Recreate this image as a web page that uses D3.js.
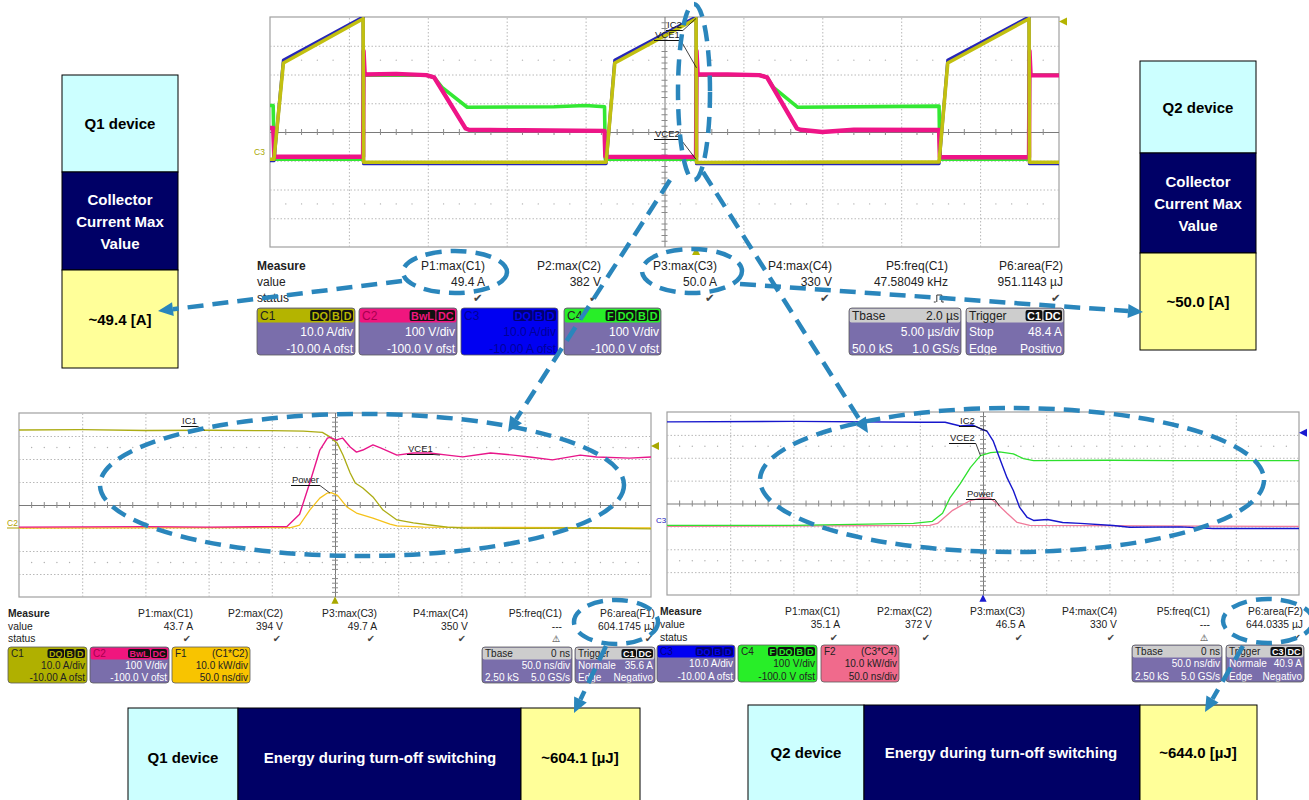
<!DOCTYPE html>
<html>
<head>
<meta charset="utf-8">
<script src="https://cdn.jsdelivr.net/npm/d3@7/dist/d3.min.js"></script>
<style>
  body { margin: 0; background: #fff; }
  text { font-family: "Liberation Sans", Arial, sans-serif; }
</style>
</head>
<body>
<svg id="chart" width="1309" height="800"></svg>
<script>
// ---------- data ----------
// Top capture, 5 µs/div. Pairs are [time µs, value].
const topIC1 = [[0, 0.5], [0.25, 0.5], [0.85, 34], [5.9, 49.4], [5.93, -0.5], [21.3, -0.5], [21.85, 34], [27.0, 49.4], [27.03, -0.6], [42.4, -0.4], [42.95, 34], [48.1, 49.4], [48.13, -0.5], [50, -0.5]];
const topIC2 = [[0, 0], [0.25, 0], [0.85, 35], [5.9, 50.0], [5.93, -1], [21.3, -1], [21.85, 35], [27.0, 50.0], [27.03, -1], [42.4, -1], [42.95, 35], [48.1, 50.0], [48.13, -1], [50, -1]];
const topVCE1 = [[0, 114], [0.2, 114], [0.27, 14], [5.9, 14], [5.93, 382], [6.0, 300], [8, 302], [9.9, 298], [10.4, 290], [12.4, 112], [12.6, 108], [16, 106], [21.2, 104], [21.25, 14], [27.0, 13], [27.03, 382], [27.1, 300], [29, 300], [31.0, 298], [31.5, 290], [33.4, 112], [33.6, 108], [35, 100], [37, 108], [42.4, 107], [42.45, 12], [48.1, 12], [48.13, 382], [48.2, 298], [50, 297]];
const topVCE2 = [[0, 192], [0.2, 192], [0.27, 5], [5.9, 5], [5.93, 298], [9.9, 298], [10.4, 290], [10.9, 255], [12.5, 186], [18, 188], [20, 192], [21.2, 188], [21.25, 5], [27.0, 5], [27.03, 298], [31.0, 298], [31.5, 290], [31.9, 255], [33.45, 186], [42.4, 190], [42.45, 5], [48.1, 5], [48.13, 298], [50, 298]];

// Q1 turn-off, 50 ns/div. Pairs are [time ns, value].
const q1IC1 = [[0, 42.6], [50, 42.8], [100, 42.4], [150, 42.5], [200, 42.3], [225, 42.1], [240, 41.6], [246, 39.6], [251.6, 37], [256.3, 31.7], [262, 23.9], [266, 19.6], [272, 17.4], [280, 13.5], [288, 7.8], [299, 3.5], [312, 2.2], [325, 1.3], [339, 0.4], [351, 0], [400, -0.2], [450, 0], [500, -0.4]];
const q1VCE1 = [[0, 4], [100, 6], [150, 4], [200, 6], [212, 6], [222, 60], [230, 196], [238, 339], [244, 391], [246, 394], [251, 383], [256, 391], [262, 352], [267, 330], [272, 339], [280, 361], [286, 348], [299, 317], [312, 326], [325, 326], [339, 317], [351, 309], [373, 326], [391, 317], [404, 309], [422, 296], [444, 317], [457, 309], [483, 304], [500, 309]];
const q1Power = [[0, 0], [215, 0.2], [222, 1.3], [230, 7.8], [238, 13], [244, 15.2], [247, 15.4], [252, 14.2], [259.5, 9.1], [267, 6.5], [280, 4.3], [293.5, 1.7], [299, 0.9], [320, 0.4], [500, 0]];

// Q2 turn-off, 50 ns/div.
const q2IC2 = [[0, 45.7], [100, 45.9], [200, 45.5], [220, 45.5], [232, 43.9], [242, 44.3], [250, 42.2], [253, 41.7], [258, 37.4], [263, 30], [269, 21.3], [274, 15.7], [279, 8.3], [285, 3.9], [290, 2.6], [301, 3], [313, 1.7], [327, 1.3], [353, 0.4], [366, -0.4], [406, -0.2], [432, -0.9], [500, -0.9]];
const q2VCE2 = [[0, 4], [100, 4], [195, 13], [210, 22], [218, 57], [224, 126], [232, 187], [240, 257], [248, 309], [256, 322], [263, 326], [274, 317], [282, 296], [290, 287], [350, 289], [400, 287], [500, 287]];
const q2Power = [[0, 0], [208, 0.4], [214, 1.3], [226, 7], [240, 11.3], [250, 12.6], [256, 12.2], [261, 10], [269, 5.7], [277, 1.7], [287, 0.4], [500, 0]];

// channel settings: [units per div, offset]
const CH_AMP = [10, -10];
const CH_VOLT = [100, -100];
const CH_POW = [10, -10];

// measurement rows
const topMeasLabels = ['P1:max(C1)', 'P2:max(C2)', 'P3:max(C3)', 'P4:max(C4)', 'P5:freq(C1)', 'P6:area(F2)'];
const topMeasValues = ['49.4 A', '382 V', '50.0 A', '330 V', '47.58049 kHz', '951.1143 µJ'];
const topMeasStatus = ['ok', 'ok', 'ok', 'ok', 'pulse', 'ok'];
const q1MeasLabels = ['P1:max(C1)', 'P2:max(C2)', 'P3:max(C3)', 'P4:max(C4)', 'P5:freq(C1)', 'P6:area(F1)'];
const q1MeasValues = ['43.7 A', '394 V', '49.7 A', '350 V', '---', '604.1745 µJ'];
const q2MeasLabels = ['P1:max(C1)', 'P2:max(C2)', 'P3:max(C3)', 'P4:max(C4)', 'P5:freq(C1)', 'P6:area(F2)'];
const q2MeasValues = ['35.1 A', '372 V', '46.5 A', '330 V', '---', '644.0335 µJ'];
const bottomMeasStatus = ['ok', 'ok', 'ok', 'ok', 'warn', 'ok'];

const svg = d3.select('#chart');
const ANNOT = '#2a86bc';
const PURPLE = '#7a6eab';
let clipId = 0;

// ---------- scope screen ----------
function drawScope(sc) {
    const g = svg.append('g');
    const xd = d3.scaleLinear().domain([0, 10]).range([sc.x0, sc.x1]);
    const yd = d3.scaleLinear().domain([-4, 4]).range([sc.y1, sc.y0]);
    sc.x = d3.scaleLinear().domain([0, sc.tMax]).range([sc.x0, sc.x1]);

    g.append('rect')
        .attr('x', sc.x0).attr('y', sc.y0)
        .attr('width', sc.x1 - sc.x0).attr('height', sc.y1 - sc.y0)
        .attr('fill', '#fff').attr('stroke', '#a0a0a0').attr('stroke-width', 1.2);

    g.append('g').attr('transform', `translate(0,${sc.y1})`)
        .call(d3.axisBottom(xd).tickValues(d3.range(1, 10)).tickSizeInner(-(sc.y1 - sc.y0)).tickSizeOuter(0).tickFormat(''))
        .call(a => a.select('.domain').remove())
        .selectAll('line')
        .attr('stroke', d => d === 5 ? '#7a7a7a' : '#b8b8b8')
        .attr('stroke-dasharray', d => d === 5 ? null : '1.5,2');

    g.append('g').attr('transform', `translate(${sc.x0},0)`)
        .call(d3.axisLeft(yd).tickValues(d3.range(-3, 4)).tickSizeInner(-(sc.x1 - sc.x0)).tickSizeOuter(0).tickFormat(''))
        .call(a => a.select('.domain').remove())
        .selectAll('line')
        .attr('stroke', d => d === 0 ? '#7a7a7a' : '#b8b8b8')
        .attr('stroke-dasharray', d => d === 0 ? null : '1.5,2');

    // minor ticks on the centre cross and dotted rows
    const minorX = d3.range(1, 50).map(i => i / 5).filter(v => Math.abs(v - Math.round(v)) > 0.01);
    const minorY = d3.range(-19, 20).map(i => i / 5).filter(v => Math.abs(v - Math.round(v)) > 0.01);
    g.selectAll('.mx').data(minorX).enter().append('line')
        .attr('x1', d => xd(d)).attr('x2', d => xd(d))
        .attr('y1', yd(0) - 3).attr('y2', yd(0) + 3)
        .attr('stroke', '#8a8a8a');
    g.selectAll('.my').data(minorY).enter().append('line')
        .attr('x1', xd(5) - 3).attr('x2', xd(5) + 3)
        .attr('y1', d => yd(d)).attr('y2', d => yd(d))
        .attr('stroke', '#8a8a8a');
    [-2.5, 2.5].forEach(r => {
        g.selectAll(null).data(minorX).enter().append('circle')
            .attr('cx', d => xd(d)).attr('cy', yd(r)).attr('r', 0.7).attr('fill', '#b0b0b0');
    });

    const id = 'clip' + (clipId++);
    svg.append('clipPath').attr('id', id).append('rect')
        .attr('x', sc.x0).attr('y', sc.y0).attr('width', sc.x1 - sc.x0).attr('height', sc.y1 - sc.y0);
    sc.traces = svg.append('g').attr('clip-path', `url(#${id})`);
    return sc;
}

function chanScale(sc, ch) {
    return d3.scaleLinear()
        .domain([-ch[1] - 4 * ch[0], -ch[1] + 4 * ch[0]])
        .range([sc.y1, sc.y0]);
}

function drawTrace(sc, data, ch, color, width) {
    const y = chanScale(sc, ch);
    sc.traces.append('path').datum(data)
        .attr('d', d3.line().x(d => sc.x(d[0])).y(d => y(d[1])))
        .attr('fill', 'none').attr('stroke', color)
        .attr('stroke-width', width).attr('stroke-linejoin', 'round');
}

function traceLabel(sc, lb) {
    const y = chanScale(sc, lb.ch);
    const t = svg.append('text').attr('x', lb.x).attr('y', lb.y)
        .attr('font-size', lb.fs || 9.5).attr('fill', '#222').text(lb.text);
    const w = t.node().getComputedTextLength();
    svg.append('line').attr('x1', lb.x - 1).attr('x2', lb.x + w + 1)
        .attr('y1', lb.y + 2.5).attr('y2', lb.y + 2.5).attr('stroke', '#111');
    svg.append('line').attr('x1', lb.x + w + 1).attr('y1', lb.y + 2.5)
        .attr('x2', sc.x(lb.t)).attr('y2', y(lb.v)).attr('stroke', '#111').attr('stroke-width', 0.8);
}

function triangle(cx, cy, dir, color, s) {
    const pts = {
        left: [[cx - s, cy], [cx + s * 0.6, cy - s * 0.8], [cx + s * 0.6, cy + s * 0.8]],
        up: [[cx, cy - s], [cx - s * 0.8, cy + s * 0.6], [cx + s * 0.8, cy + s * 0.6]]
    }[dir];
    svg.append('polygon').attr('points', pts.map(p => p.join(',')).join(' ')).attr('fill', color);
}

// top capture
const topSc = drawScope({x0: 270, x1: 1059, y0: 17, y1: 247, tMax: 50});
drawTrace(topSc, topVCE2, CH_VOLT, '#33e833', 3.6);
drawTrace(topSc, topVCE1, CH_VOLT, '#ee1487', 4.4);
drawTrace(topSc, topIC2, CH_AMP, '#2626b8', 3.2);
drawTrace(topSc, topIC1, CH_AMP, '#c2c010', 3.6);
traceLabel(topSc, {text: 'IC2', x: 667, y: 28, t: 27.0, v: 49.5, ch: CH_AMP, fs: 9.5});
traceLabel(topSc, {text: 'VCE1', x: 655, y: 38, t: 27.03, v: 323, ch: CH_VOLT, fs: 9.5});
traceLabel(topSc, {text: 'VCE2', x: 655, y: 137, t: 27.0, v: 5, ch: CH_VOLT, fs: 9.5});
svg.append('text').attr('x', 254).attr('y', 155).attr('font-size', 8.5).attr('fill', '#a8a800').text('C3');
triangle(1064, chanScale(topSc, CH_AMP)(48.4), 'left', '#b4b400', 5);
triangle(topSc.x(27.0), 252, 'up', '#b4b400', 5);

// Q1 turn-off
const q1Sc = drawScope({x0: 19, x1: 651, y0: 413, y1: 597, tMax: 500});
drawTrace(q1Sc, q1Power, CH_POW, '#f5c21a', 1.3);
drawTrace(q1Sc, q1IC1, CH_AMP, '#acac14', 1.3);
drawTrace(q1Sc, q1VCE1, CH_VOLT, '#e8168a', 1.4);
traceLabel(q1Sc, {text: 'IC1', x: 182, y: 424, t: 147, v: 42.5, ch: CH_AMP});
traceLabel(q1Sc, {text: 'Power', x: 292, y: 483, t: 246, v: 15.2, ch: CH_POW});
traceLabel(q1Sc, {text: 'VCE1', x: 408, y: 452, t: 333, v: 317, ch: CH_VOLT});
svg.append('text').attr('x', 7).attr('y', 526).attr('font-size', 8.5).attr('fill', '#b0a000').text('C2');
svg.append('line').attr('x1', 7).attr('x2', 19).attr('y1', 528).attr('y2', 528).attr('stroke', '#b0a000');
triangle(656, chanScale(q1Sc, CH_AMP)(35.6), 'left', '#a8a800', 5);
triangle(q1Sc.x(250), 601, 'up', '#a8a800', 4.5);

// Q2 turn-off
const q2Sc = drawScope({x0: 667, x1: 1299, y0: 412, y1: 595, tMax: 500});
drawTrace(q2Sc, q2Power, CH_POW, '#f07a9a', 1.3);
drawTrace(q2Sc, q2VCE2, CH_VOLT, '#2ee02e', 1.3);
drawTrace(q2Sc, q2IC2, CH_AMP, '#1616cc', 1.4);
traceLabel(q2Sc, {text: 'IC2', x: 960, y: 424, t: 253, v: 41.7, ch: CH_AMP});
traceLabel(q2Sc, {text: 'VCE2', x: 950, y: 441, t: 248, v: 309, ch: CH_VOLT});
traceLabel(q2Sc, {text: 'Power', x: 967, y: 497, t: 263, v: 9, ch: CH_POW});
svg.append('text').attr('x', 656).attr('y', 523).attr('font-size', 8).attr('fill', '#2020c0').text('C3');
triangle(1304, chanScale(q2Sc, CH_AMP)(40.9), 'left', '#1a1ad0', 5);
triangle(q2Sc.x(250), 599, 'up', '#1a1ad0', 4.5);

// ---------- measure panels ----------
function drawMeasure(m) {
    const g = svg.append('g').attr('font-size', m.fs).attr('fill', '#222');
    g.append('text').attr('x', m.x).attr('y', m.rows[0]).attr('font-weight', 'bold').text('Measure');
    g.append('text').attr('x', m.x).attr('y', m.rows[1]).text('value');
    g.append('text').attr('x', m.x).attr('y', m.rows[2]).text('status');
    m.labels.forEach((l, i) => {
        g.append('text').attr('x', m.ends[i]).attr('y', m.rows[0]).attr('text-anchor', 'end').text(l);
        g.append('text').attr('x', m.ends[i]).attr('y', m.rows[1]).attr('text-anchor', 'end').text(m.values[i]);
        const s = m.status[i];
        const cx = m.ends[i] - m.fs * 0.6;
        if (s === 'ok') {
            g.append('text').attr('x', cx).attr('y', m.rows[2]).attr('text-anchor', 'middle')
                .style('font-family', '"DejaVu Sans", sans-serif').attr('font-size', m.fs * 0.95)
                .attr('fill', '#444').text('✔');
        } else if (s === 'warn') {
            g.append('text').attr('x', cx).attr('y', m.rows[2]).attr('text-anchor', 'middle')
                .style('font-family', '"DejaVu Sans", sans-serif').attr('font-size', m.fs * 0.9)
                .attr('fill', '#333').text('⚠');
        } else {
            const by = m.rows[2];
            g.append('path')
                .attr('d', `M${cx - 7},${by} l2,0 M${cx - 4},${by} l0,-7 l5,0 l0,7 l2,0`)
                .attr('fill', 'none').attr('stroke', '#333').attr('stroke-width', 1);
        }
    });
}

function chanBox(b, y, h, hh, fs) {
    const g = svg.append('g').attr('font-size', fs);
    g.append('rect').attr('x', b.x).attr('y', y).attr('width', b.w).attr('height', h)
        .attr('rx', 3).attr('fill', b.body || PURPLE);
    g.append('rect').attr('x', b.x + 0.5).attr('y', y + 0.5).attr('width', b.w - 1).attr('height', hh)
        .attr('rx', 2).attr('fill', b.head);
    g.append('text').attr('x', b.x + 3).attr('y', y + hh - 2.5)
        .attr('fill', b.headInk || '#222').text(b.name);
    let rx = b.x + b.w - 2;
    if (b.right) {
        g.append('text').attr('x', rx).attr('y', y + hh - 2.5).attr('text-anchor', 'end')
            .attr('fill', b.headInk || '#222').text(b.right);
    }
    (b.badges || []).slice().reverse().forEach(bd => {
        const t = g.append('text').attr('y', y + hh - 2.5).attr('font-size', fs * 0.9)
            .attr('font-weight', 'bold').attr('fill', b.badgeInk || b.head).text(bd);
        const w = t.node().getComputedTextLength() + 3;
        g.insert('rect', () => t.node()).attr('x', rx - w).attr('y', y + 2).attr('width', w).attr('height', hh - 3)
            .attr('rx', 2).attr('fill', b.badgeFill || '#111');
        t.attr('x', rx - w + 1.5);
        rx -= w + 1;
    });
    const lh = (h - hh) / 2;
    b.lines.forEach((ln, i) => {
        const by = y + hh + lh * (i + 1) - 2.5;
        if (ln[0]) g.append('text').attr('x', b.x + 3).attr('y', by).attr('fill', b.ink || '#fff').text(ln[0]);
        g.append('text').attr('x', b.x + b.w - 2).attr('y', by).attr('text-anchor', 'end')
            .attr('fill', b.ink || '#fff').text(ln[1]);
    });
    g.append('rect').attr('x', b.x).attr('y', y).attr('width', b.w).attr('height', h)
        .attr('rx', 3).attr('fill', 'none').attr('stroke', '#5a5a5a').attr('stroke-width', 0.8);
}

drawMeasure({x: 257, fs: 12, rows: [270, 286, 302], ends: [485, 601, 717, 832, 948, 1063],
    labels: topMeasLabels, values: topMeasValues, status: topMeasStatus});
drawMeasure({x: 8, fs: 10.3, rows: [617, 630, 642], ends: [193, 283, 377, 468, 562, 655],
    labels: q1MeasLabels, values: q1MeasValues, status: bottomMeasStatus});
drawMeasure({x: 660, fs: 10.3, rows: [615, 628, 641], ends: [840, 932, 1025, 1117, 1210, 1303],
    labels: q2MeasLabels, values: q2MeasValues, status: bottomMeasStatus});

const GREY = '#cdcdcd';
[
    {x: 257, w: 98, name: 'C1', badges: ['DQ', 'B', 'D'], head: '#b4b400', lines: [['', '10.0 A/div'], ['', '-10.00 A ofst']]},
    {x: 359, w: 98, name: 'C2', badges: ['BwL', 'DC'], head: '#f0167e', headInk: '#a8004e', lines: [['', '100 V/div'], ['', '-100.0 V ofst']]},
    {x: 461, w: 97, name: 'C3', badges: ['DQ', 'B', 'D'], head: '#0000f2', body: '#0000f2', headInk: '#00009a', ink: '#00009a', badgeFill: '#000070', lines: [['', '10.0 A/div'], ['', '-10.00 A ofst']]},
    {x: 564, w: 97, name: 'C4', badges: ['F', 'DQ', 'B', 'D'], head: '#28ee28', lines: [['', '100 V/div'], ['', '-100.0 V ofst']]},
    {x: 849, w: 112, name: 'Tbase', right: '2.0 µs', head: GREY, lines: [['', '5.00 µs/div'], ['50.0 kS', '1.0 GS/s']]},
    {x: 966, w: 98, name: 'Trigger', badges: ['C1', 'DC'], badgeInk: '#fff', head: GREY, lines: [['Stop', '48.4 A'], ['Edge', 'Positivo']]}
].forEach(b => chanBox(b, 308, 47, 14, 12));

[
    {x: 8, w: 79, name: 'C1', badges: ['DQ', 'B', 'D'], head: '#b0b000', body: '#b0b000', ink: '#222', lines: [['', '10.0 A/div'], ['', '-10.00 A ofst']]},
    {x: 90, w: 79, name: 'C2', badges: ['BwL', 'DC'], head: '#f0167e', headInk: '#a8004e', lines: [['', '100 V/div'], ['', '-100.0 V ofst']]},
    {x: 172, w: 78, name: 'F1', right: '(C1*C2)', head: '#f8c400', body: '#f8c400', ink: '#222', lines: [['', '10.0 kW/div'], ['', '50.0 ns/div']]},
    {x: 482, w: 90, name: 'Tbase', right: '0 ns', head: GREY, lines: [['', '50.0 ns/div'], ['2.50 kS', '5.0 GS/s']]},
    {x: 575, w: 80, name: 'Trigger', badges: ['C1', 'DC'], badgeInk: '#fff', head: GREY, lines: [['Normale', '35.6 A'], ['Edge', 'Negativo']]}
].forEach(b => chanBox(b, 647, 36, 12, 10));

[
    {x: 657, w: 78, name: 'C3', badges: ['DQ', 'B', 'D'], head: '#0000f2', headInk: '#000080', badgeFill: '#000070', lines: [['', '10.0 A/div'], ['', '-10.00 A ofst']]},
    {x: 738, w: 79, name: 'C4', badges: ['F', 'DQ', 'B', 'D'], head: '#28ee28', body: '#28ee28', ink: '#222', lines: [['', '100 V/div'], ['', '-100.0 V ofst']]},
    {x: 821, w: 78, name: 'F2', right: '(C3*C4)', head: '#f06a8c', body: '#f06a8c', ink: '#222', lines: [['', '10.0 kW/div'], ['', '50.0 ns/div']]},
    {x: 1132, w: 90, name: 'Tbase', right: '0 ns', head: GREY, lines: [['', '50.0 ns/div'], ['2.50 kS', '5.0 GS/s']]},
    {x: 1226, w: 78, name: 'Trigger', badges: ['C3', 'DC'], badgeInk: '#fff', head: GREY, lines: [['Normale', '40.9 A'], ['Edge', 'Negativo']]}
].forEach(b => chanBox(b, 645, 37, 12, 10));

// ---------- summary boxes ----------
const CYAN = '#ccffff', NAVY = '#000066', LEMON = '#ffff99';

function cell(x, y, w, h, fill, lines, ink) {
    svg.append('rect').attr('x', x).attr('y', y).attr('width', w).attr('height', h)
        .attr('fill', fill).attr('stroke', '#000').attr('stroke-width', 1);
    const lh = 22;
    lines.forEach((l, i) => {
        svg.append('text').attr('x', x + w / 2)
            .attr('y', y + h / 2 + (i - (lines.length - 1) / 2) * lh + 5.5)
            .attr('text-anchor', 'middle').attr('font-size', 15).attr('font-weight', 'bold')
            .attr('fill', ink).text(l);
    });
}

cell(62, 75, 116, 97, CYAN, ['Q1 device'], '#000');
cell(62, 172, 116, 98, NAVY, ['Collector', 'Current Max', 'Value'], '#fff');
cell(62, 270, 116, 98, LEMON, ['~49.4 [A]'], '#000');

cell(1140, 61, 116, 92, CYAN, ['Q2 device'], '#000');
cell(1140, 153, 116, 100, NAVY, ['Collector', 'Current Max', 'Value'], '#fff');
cell(1140, 253, 116, 97, LEMON, ['~50.0 [A]'], '#000');

cell(128, 708, 110, 100, CYAN, [], '#000');
cell(238, 708, 283, 100, NAVY, [], '#fff');
cell(521, 708, 119, 100, LEMON, [], '#000');
[['Q1 device', 183, '#000'], ['Energy during turn-off switching', 380, '#fff'], ['~604.1 [µJ]', 580, '#000']].forEach(t => {
    svg.append('text').attr('x', t[1]).attr('y', 763).attr('text-anchor', 'middle')
        .attr('font-size', 15).attr('font-weight', 'bold').attr('fill', t[2]).text(t[0]);
});

cell(748, 705, 116, 100, CYAN, [], '#000');
cell(864, 705, 276, 100, NAVY, [], '#fff');
cell(1140, 705, 117, 100, LEMON, [], '#000');
[['Q2 device', 806, '#000'], ['Energy during turn-off switching', 1001, '#fff'], ['~644.0 [µJ]', 1198, '#000']].forEach(t => {
    svg.append('text').attr('x', t[1]).attr('y', 758).attr('text-anchor', 'middle')
        .attr('font-size', 15).attr('font-weight', 'bold').attr('fill', t[2]).text(t[0]);
});

// ---------- dashed callouts ----------
const calloutEllipses = [
    {cx: 694, cy: 92, rx: 16, ry: 88},
    {cx: 455, cy: 272, rx: 52, ry: 21},
    {cx: 692, cy: 271, rx: 50, ry: 22},
    {cx: 362, cy: 485, rx: 262, ry: 71},
    {cx: 1012, cy: 480, rx: 252, ry: 72},
    {cx: 616, cy: 622, rx: 42, ry: 22},
    {cx: 1268, cy: 621, rx: 45, ry: 22}
];
const calloutArrows = [
    {from: [402, 281], to: [158, 311]},
    {from: [740, 284], to: [1143, 312]},
    {from: [670, 180], to: [508, 432]},
    {from: [703, 172], to: [868, 433]},
    {from: [606, 646], to: [574, 713]},
    {from: [1243, 646], to: [1205, 712]}
];

const ann = svg.append('g');
ann.selectAll('ellipse').data(calloutEllipses).enter().append('ellipse')
    .attr('cx', d => d.cx).attr('cy', d => d.cy).attr('rx', d => d.rx).attr('ry', d => d.ry)
    .attr('fill', 'none').attr('stroke', ANNOT).attr('stroke-width', 4.5)
    .attr('stroke-dasharray', '16,9');

calloutArrows.forEach(a => {
    const dx = a.to[0] - a.from[0], dy = a.to[1] - a.from[1];
    const len = Math.hypot(dx, dy), ux = dx / len, uy = dy / len;
    const head = 15, half = 7;
    const bx = a.to[0] - ux * head, by = a.to[1] - uy * head;
    ann.append('line').attr('x1', a.from[0]).attr('y1', a.from[1]).attr('x2', bx).attr('y2', by)
        .attr('stroke', ANNOT).attr('stroke-width', 4.5).attr('stroke-dasharray', '16,9');
    ann.append('polygon')
        .attr('points', [[a.to[0], a.to[1]], [bx - uy * half, by + ux * half], [bx + uy * half, by - ux * half]]
            .map(p => p.join(',')).join(' '))
        .attr('fill', ANNOT);
});
</script>
</body>
</html>
